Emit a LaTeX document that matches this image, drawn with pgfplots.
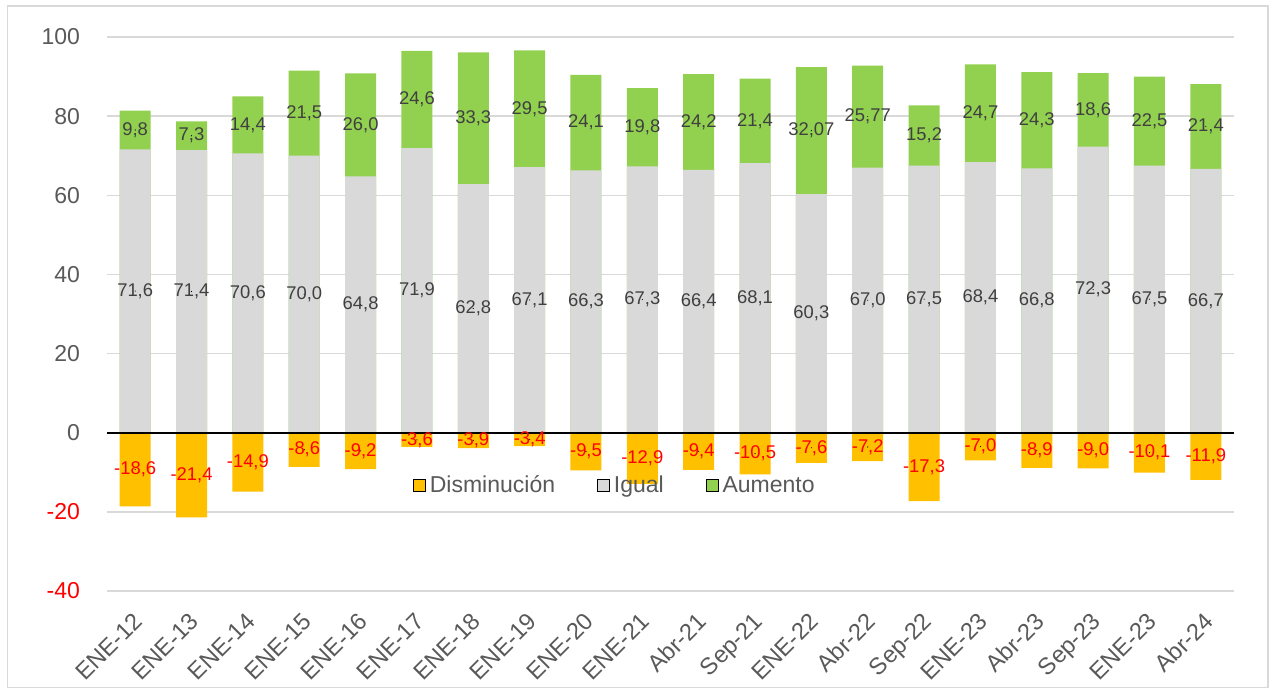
\documentclass[border=0pt]{standalone}
\usepackage{pgfplots}
\pgfplotsset{compat=1.18}
\usepackage{pgfplotstable}
\usepackage{fontspec}
\setmainfont{Liberation Sans}
\definecolor{myorange}{HTML}{FFC000}
\definecolor{mygrey}{HTML}{D9D9D9}
\definecolor{mygreen}{HTML}{92D050}
\definecolor{gridgrey}{HTML}{D9D9D9}
\definecolor{textgrey}{HTML}{595959}
\definecolor{labelgrey}{HTML}{404040}
\definecolor{myred}{HTML}{FF0000}
\pgfplotstableread{
x igual aum dis tig tau tdis
0 71.6 9.8 -18.6 71,6 9,8 -18,6
1 71.4 7.3 -21.4 71,4 7,3 -21,4
2 70.6 14.4 -14.9 70,6 14,4 -14,9
3 70.0 21.5 -8.6 70,0 21,5 -8,6
4 64.8 26.0 -9.2 64,8 26,0 -9,2
5 71.9 24.6 -3.6 71,9 24,6 -3,6
6 62.8 33.3 -3.9 62,8 33,3 -3,9
7 67.1 29.5 -3.4 67,1 29,5 -3,4
8 66.3 24.1 -9.5 66,3 24,1 -9,5
9 67.3 19.8 -12.9 67,3 19,8 -12,9
10 66.4 24.2 -9.4 66,4 24,2 -9,4
11 68.1 21.4 -10.5 68,1 21,4 -10,5
12 60.3 32.07 -7.6 60,3 32,07 -7,6
13 67.0 25.77 -7.2 67,0 25,77 -7,2
14 67.5 15.2 -17.3 67,5 15,2 -17,3
15 68.4 24.7 -7.0 68,4 24,7 -7,0
16 66.8 24.3 -8.9 66,8 24,3 -8,9
17 72.3 18.6 -9.0 72,3 18,6 -9,0
18 67.5 22.5 -10.1 67,5 22,5 -10,1
19 66.7 21.4 -11.9 66,7 21,4 -11,9
}\datatable
\begin{document}
\begin{tikzpicture}
\useasboundingbox (0,0) rectangle (636pt,346.5pt);
\fill[white] (0,0) rectangle (636pt,346.5pt);
\draw[gridgrey, line width=0.8pt] (3.8pt,2.8pt) rectangle (634pt,343.5pt);
\begin{axis}[
  at={(53.5pt,51pt)}, anchor=south west,
  scale only axis, width=563.5pt, height=277pt,
  xmin=-0.5, xmax=19.5, ymin=-40, ymax=100,
  axis line style={draw=none},
  major tick length=0pt,
  ytick={-40,-20,0,20,40,60,80,100},
  yticklabels={\textcolor{myred}{-40},\textcolor{myred}{-20},0,20,40,60,80,100},
  yticklabel style={font=\fontsize{11.5}{13}\selectfont, text=textgrey, xshift=-10pt},
  ymajorgrids, grid style={gridgrey, line width=0.7pt},
  xtick={0,...,19},
  xticklabels={ENE-12,ENE-13,ENE-14,ENE-15,ENE-16,ENE-17,ENE-18,ENE-19,ENE-20,ENE-21,Abr-21,Sep-21,ENE-22,Abr-22,Sep-22,ENE-23,Abr-23,Sep-23,ENE-23,Abr-24},
  xticklabel style={font=\fontsize{11.8}{13}\selectfont, text=textgrey, xshift=-1.5pt, yshift=-10pt, rotate=45, anchor=north east, inner sep=0pt},
  /pgf/number format/assume math mode=true,
  legend image code/.code={\fill[#1] (-3pt,-3pt) rectangle (3pt,3pt);},
  legend style={at={(axis cs:8.53,-13.4)}, anchor=center, draw=none, fill=none,
    legend columns=3, font=\fontsize{11.5}{13}\selectfont, text=textgrey,
    /tikz/every even column/.append style={column sep=19pt}},
  legend cell align=left,
]
\addlegendimage{fill=myorange}
\addlegendentry{Disminución}
\addlegendimage{fill=mygrey}
\addlegendentry{Igual}
\addlegendimage{fill=mygreen}
\addlegendentry{Aumento}

\addplot[ybar, bar width=15.5pt, bar shift=0pt, fill=mygreen, draw=none, forget plot]
  table[x=x, y expr=\thisrow{igual}+\thisrow{aum}] {\datatable};
\addplot[ybar, bar width=15.5pt, bar shift=0pt, fill=mygrey, draw=none, forget plot]
  table[x=x, y=igual] {\datatable};
\addplot[ybar, bar width=15.5pt, bar shift=0pt, fill=myorange, draw=none, forget plot]
  table[x=x, y=dis] {\datatable};

\draw[black, line width=0.9pt] (axis cs:-0.5,0) -- (axis cs:19.5,0);

\addplot[only marks, mark=*, mark size=0.01pt, mark options={draw=none, fill=none}, forget plot,
  point meta=explicit symbolic, nodes near coords,
  every node near coord/.append style={anchor=center, font=\fontsize{9.2}{10}\selectfont, text=labelgrey}]
  table[x=x, y expr=\thisrow{igual}/2, meta=tig] {\datatable};
\addplot[only marks, mark=*, mark size=0.01pt, mark options={draw=none, fill=none}, forget plot,
  point meta=explicit symbolic, nodes near coords,
  every node near coord/.append style={anchor=center, font=\fontsize{9.2}{10}\selectfont, text=labelgrey}]
  table[x=x, y expr=\thisrow{igual}+\thisrow{aum}/2, meta=tau] {\datatable};
\addplot[only marks, mark=*, mark size=0.01pt, mark options={draw=none, fill=none}, forget plot,
  point meta=explicit symbolic, nodes near coords,
  every node near coord/.append style={anchor=center, font=\fontsize{9.2}{10}\selectfont, text=myred}]
  table[x=x, y expr=\thisrow{dis}/2, meta=tdis] {\datatable};
\end{axis}
\end{tikzpicture}
\end{document}
